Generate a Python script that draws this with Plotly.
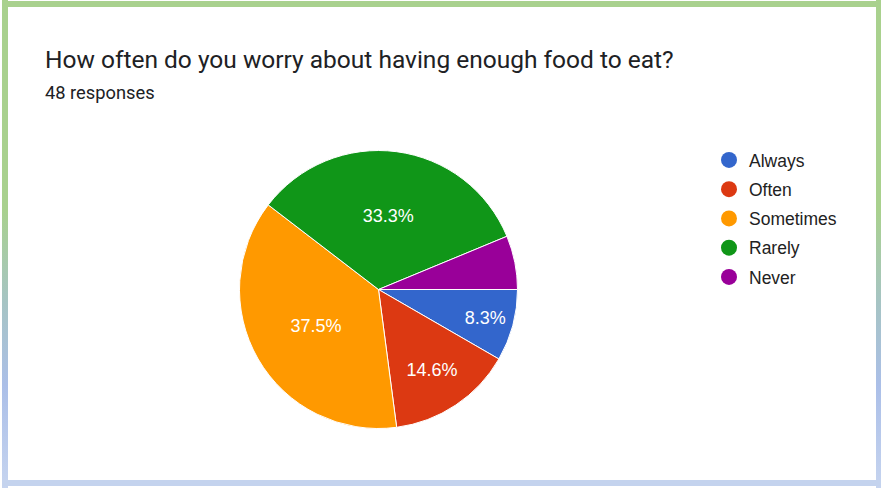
import plotly.graph_objects as go

# Survey answers and response counts (48 responses in total)
categories = ["Always", "Often", "Sometimes", "Rarely", "Never"]
counts = [4, 7, 18, 16, 3]
colors = ["#3366cc", "#dc3912", "#ff9900", "#109618", "#990099"]

title_text = "How often do you worry about having enough food to eat?"
subtitle_text = "48 responses"

W, H = 881, 488
HEAD_FONT = "Roboto, Arial, sans-serif"
CHART_FONT = "Liberation Sans, Arial, sans-serif"

fig = go.Figure()

# Pie with slice labels; the smallest slice carries no label
labels_tpl = ["%{percent:.1%}" if c / sum(counts) > 0.07 else "" for c in counts]
cx, cy, r = 378.5, 289.5, 139
fig.add_trace(go.Pie(
    labels=categories,
    values=counts,
    sort=False,
    direction="clockwise",
    rotation=90,
    marker=dict(colors=colors, line=dict(color="white", width=1)),
    texttemplate=labels_tpl,
    textposition="inside",
    insidetextorientation="horizontal",
    textfont=dict(family=CHART_FONT, size=18, color="white"),
    showlegend=False,
    hoverinfo="label+percent+value",
    domain=dict(x=[(cx - r) / W, (cx + r) / W],
                y=[1 - (cy + r) / H, 1 - (cy - r) / H]),
))

# Legend entries with round swatches
for i, (name, col) in enumerate(zip(categories, colors)):
    fig.add_trace(go.Scatter(
        x=[None], y=[None], mode="markers", name=name,
        legendgroup=f"g{i}",
        marker=dict(color=col, size=17, symbol="circle"),
        xaxis="x", yaxis="y", hoverinfo="skip",
    ))

# Card frame: solid top/bottom bands, vertically graded side bands
# (y axis runs downward, so the colorscale is listed bottom-to-top)
grad = [[0.0, "#c6d4ef"], [0.21, "#abbfe8"], [0.38, "#a6c4c4"],
        [0.57, "#a9d18e"], [1.0, "#a9d18e"]]


def band(x0, x1, y0, y1, **kw):
    return go.Scatter(
        x=[x0, x1, x1, x0, x0], y=[y0, y0, y1, y1, y0],
        mode="lines", line=dict(width=0), fill="toself",
        showlegend=False, hoverinfo="skip", xaxis="x", yaxis="y", **kw)


fig.add_trace(band(2, 8, 0, 488, fillgradient=dict(type="vertical", colorscale=grad)))
fig.add_trace(band(876, 881, 0, 488, fillgradient=dict(type="vertical", colorscale=grad)))
fig.add_trace(band(2, 881, 1, 7, fillcolor="#a9d18e"))
fig.add_trace(band(2, 881, 480, 486, fillcolor="#c4d3ee"))

fig.add_annotation(text=title_text, x=43 / W, y=1 - 59 / H, xref="paper", yref="paper",
                   xanchor="left", yanchor="middle", showarrow=False,
                   font=dict(family=HEAD_FONT, size=24.5, color="#202124"))
fig.add_annotation(text=subtitle_text, x=43 / W, y=1 - 93 / H, xref="paper", yref="paper",
                   xanchor="left", yanchor="middle", showarrow=False,
                   font=dict(family=HEAD_FONT, size=18.3, color="#202124"))

fig.update_layout(
    width=W, height=H,
    margin=dict(l=0, r=0, t=0, b=0),
    paper_bgcolor="white", plot_bgcolor="white",
    xaxis=dict(range=[0, W], domain=[0, 1], visible=False, fixedrange=True),
    yaxis=dict(range=[H, 0], domain=[0, 1], visible=False, fixedrange=True),
    legend=dict(x=709 / W, y=1 - 142 / H, xanchor="left", yanchor="top",
                font=dict(family=CHART_FONT, size=17.5, color="#222222"),
                tracegroupgap=3.5, itemsizing="trace", itemwidth=30,
                bgcolor="rgba(0,0,0,0)"),
)

fig.write_html("out.html")
